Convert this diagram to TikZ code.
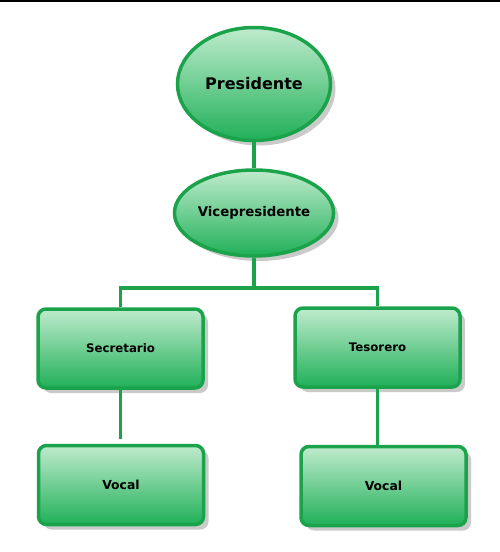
\documentclass[tikz,border=0pt]{standalone}
\usepackage{fontspec}
\setmainfont{DejaVu Sans}
\usepackage{tikz}
\usetikzlibrary{positioning,shapes.geometric,shadows,calc}
\definecolor{orgline}{HTML}{1BA34C}
\definecolor{orgtop}{HTML}{BFEBCD}
\definecolor{orgbot}{HTML}{20B058}
\tikzset{
  orgnode/.style={draw=orgline,line width=3.5pt,top color=orgtop,bottom color=orgbot,
    inner sep=0pt,font=\bfseries,
    drop shadow={shadow xshift=5pt,shadow yshift=-5pt,fill=black!35,opacity=.6}},
  orgoval/.style={orgnode,ellipse},
  orgbox/.style={orgnode,rectangle,rounded corners=8pt,minimum width=165pt,minimum height=79pt},
  link/.style={draw=orgline,line width=3.5pt}
}
\begin{document}
\begin{tikzpicture}[x=1pt,y=-1pt]
\useasboundingbox (0,0) rectangle (500,552);
\fill[black] (0,0) rectangle (500,1.5);
\node[orgoval,minimum width=153pt,minimum height=113pt,font=\bfseries\fontsize{16}{18}\selectfont] (pres) at (254,84) {Presidente};
\node[orgoval,minimum width=153pt,minimum height=86pt,font=\bfseries\fontsize{13.3}{15}\selectfont] (vice) at (254,213) {Vicepresidente};
\node[orgbox,font=\bfseries\fontsize{11.8}{14}\selectfont] (sec) at (120.5,348.5) {Secretario};
\node[orgbox,font=\bfseries\fontsize{11.8}{14}\selectfont] (tes) at (377.5,347.5) {Tesorero};
\node[orgbox,font=\bfseries\fontsize{12.4}{14}\selectfont] (vocA) at (121,485) {Vocal};
\node[orgbox,font=\bfseries\fontsize{12.4}{14}\selectfont] (vocB) at (383.5,486) {Vocal};
\coordinate (bus) at (254,288);
% connectors
\draw[link] (pres) -- (vice);
\draw[link] (vice) -- (bus);
\draw[link] (sec.north) |- (bus) -| (tes.north);
\draw[link,shorten >=5pt] (sec) -- (sec |- vocA.north);
\draw[link] (tes.south) -- (tes.south |- vocB.north);
\end{tikzpicture}
\end{document}
